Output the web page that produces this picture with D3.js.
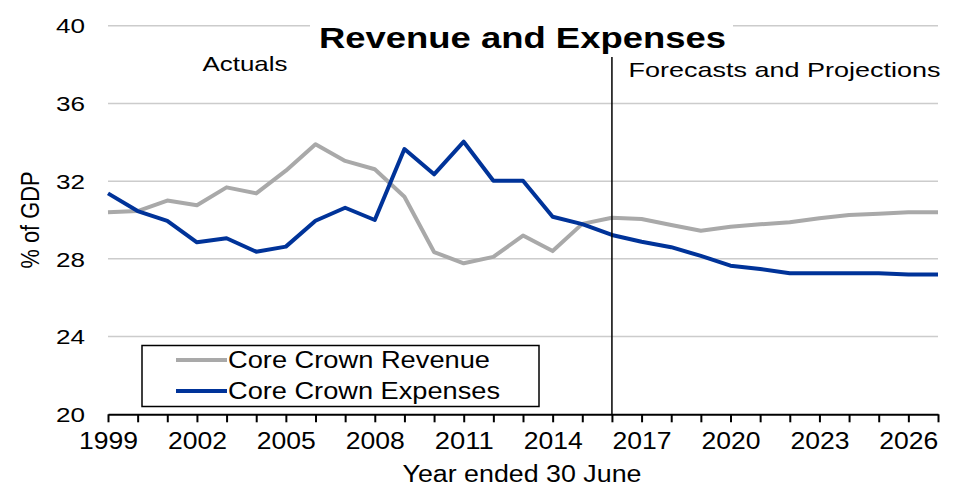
<!DOCTYPE html>
<html>
<head>
<meta charset="utf-8">
<script src="https://cdn.jsdelivr.net/npm/d3@7"></script>
<style>
  html, body { margin: 0; padding: 0; background: #fff; }
  svg { display: block; font-family: "Liberation Sans", Arial, sans-serif; }
</style>
</head>
<body>
<svg id="chart" width="958" height="488"></svg>
<script>
// Fiscal years (year ended 30 June)
const years = d3.range(1999, 2028);

// Core Crown revenue, % of GDP
const revenue = [30.40, 30.46, 31.00, 30.76, 31.68, 31.37, 32.54, 33.90, 33.04, 32.61,
                 31.20, 28.35, 27.77, 28.10, 29.20, 28.40, 29.80, 30.12, 30.05, 29.74,
                 29.45, 29.65, 29.78, 29.88, 30.09, 30.26, 30.32, 30.40, 30.40];

// Core Crown expenses, % of GDP
const expenses = [31.37, 30.46, 29.96, 28.85, 29.06, 28.37, 28.63, 29.96, 30.63, 30.00,
                  33.65, 32.35, 34.03, 32.02, 32.02, 30.17, 29.79, 29.23, 28.88, 28.60,
                  28.15, 27.65, 27.48, 27.26, 27.26, 27.26, 27.26, 27.19, 27.19];

const yTicks = [20, 24, 28, 32, 36, 40];
const xLabelYears = d3.range(1999, 2028, 3);
const forecastStart = 2016;

const seriesNames = ["Core Crown Revenue", "Core Crown Expenses"];
const seriesColors = ["#a9a9a9", "#003399"];

const svg = d3.select("#chart");
const plotLeft = 108, plotRight = 938, plotTop = 25.7, plotBottom = 414.3;

const x = d3.scaleLinear().domain([1999, 2027]).range([plotLeft, plotRight]);
const y = d3.scaleLinear().domain([20, 40]).range([plotBottom, plotTop]);

// Horizontal gridlines
svg.append("g")
  .selectAll("line")
  .data(yTicks.filter(t => t > 20))
  .join("line")
  .attr("x1", plotLeft).attr("x2", plotRight)
  .attr("y1", d => y(d)).attr("y2", d => y(d))
  .attr("stroke", "#cccccc").attr("stroke-width", 1.5);

// Y axis labels
const yAxis = svg.append("g")
  .attr("transform", `translate(${plotLeft - 23},0)`)
  .call(d3.axisLeft(y).tickValues(yTicks).tickSize(0).tickPadding(0));
yAxis.select(".domain").remove();
yAxis.selectAll("text")
  .attr("font-family", "Liberation Sans, Arial, sans-serif")
  .attr("font-size", 20).attr("fill", "#000")
  .attr("dy", "0.36em")
  .attr("textLength", 29).attr("lengthAdjust", "spacingAndGlyphs");

// Series lines
const line = d3.line().x((d, i) => x(years[i])).y(d => y(d));
[revenue, expenses].forEach((vals, k) => {
  svg.append("path")
    .datum(vals)
    .attr("d", line)
    .attr("fill", "none")
    .attr("stroke", seriesColors[k])
    .attr("stroke-width", 4)
    .attr("stroke-linejoin", "round");
});

// X axis
const xAxis = svg.append("g")
  .attr("transform", `translate(0,${plotBottom})`)
  .call(d3.axisBottom(x)
    .tickValues(years)
    .tickSize(8)
    .tickSizeOuter(0)
    .tickPadding(10)
    .tickFormat(d => xLabelYears.includes(d) ? String(d) : ""));
xAxis.select(".domain").attr("stroke", "#000").attr("stroke-width", 2);
xAxis.selectAll(".tick line").attr("stroke", "#000").attr("stroke-width", 2);
xAxis.selectAll("text")
  .attr("font-family", "Liberation Sans, Arial, sans-serif")
  .attr("font-size", 23).attr("fill", "#000")
  .attr("y", 35).attr("dy", 0)
  .filter(d => xLabelYears.includes(d))
  .attr("textLength", 59).attr("lengthAdjust", "spacingAndGlyphs");

// Divider between actuals and forecasts
svg.append("line")
  .attr("x1", x(forecastStart)).attr("x2", x(forecastStart))
  .attr("y1", 57).attr("y2", plotBottom)
  .attr("stroke", "#000").attr("stroke-width", 1.5);

// Title with white backing
svg.append("rect")
  .attr("x", 310).attr("y", 12).attr("width", 423).attr("height", 44)
  .attr("fill", "#fff");
svg.append("text")
  .attr("x", 522.5).attr("y", 48)
  .attr("text-anchor", "middle")
  .attr("font-size", 29).attr("font-weight", "bold")
  .attr("textLength", 407).attr("lengthAdjust", "spacingAndGlyphs")
  .text("Revenue and Expenses");

// Section annotations
svg.append("text")
  .attr("x", 245).attr("y", 71)
  .attr("text-anchor", "middle")
  .attr("font-size", 21)
  .attr("textLength", 85).attr("lengthAdjust", "spacingAndGlyphs")
  .text("Actuals");
svg.append("text")
  .attr("x", 628.5).attr("y", 77)
  .attr("font-size", 21)
  .attr("textLength", 312).attr("lengthAdjust", "spacingAndGlyphs")
  .text("Forecasts and Projections");

// Axis titles
svg.append("text")
  .attr("x", 522).attr("y", 481.5)
  .attr("text-anchor", "middle")
  .attr("font-size", 23)
  .attr("textLength", 239).attr("lengthAdjust", "spacingAndGlyphs")
  .text("Year ended 30 June");
svg.append("text")
  .attr("transform", "translate(38.5,220) scale(1.26,1) rotate(-90)")
  .attr("text-anchor", "middle")
  .attr("font-size", 21)
  .attr("textLength", 97).attr("lengthAdjust", "spacingAndGlyphs")
  .text("% of GDP");

// Legend
const legend = svg.append("g");
legend.append("rect")
  .attr("x", 142).attr("y", 345.5).attr("width", 397).attr("height", 61)
  .attr("fill", "#fff").attr("stroke", "#000").attr("stroke-width", 1.5);
const legendRows = [{ y: 360, len: 262 }, { y: 391, len: 272 }];
seriesNames.forEach((name, k) => {
  legend.append("line")
    .attr("x1", 176).attr("x2", 227)
    .attr("y1", legendRows[k].y).attr("y2", legendRows[k].y)
    .attr("stroke", seriesColors[k]).attr("stroke-width", 4);
  legend.append("text")
    .attr("x", 228).attr("y", legendRows[k].y + 8)
    .attr("font-size", 23)
    .attr("textLength", legendRows[k].len).attr("lengthAdjust", "spacingAndGlyphs")
    .text(name);
});
</script>
</body>
</html>
